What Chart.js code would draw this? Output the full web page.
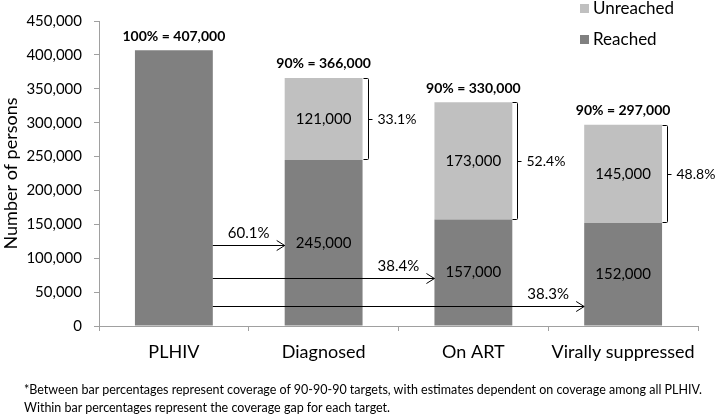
<!DOCTYPE html>
<html>
<head>
<meta charset="utf-8">
<script src="https://cdn.jsdelivr.net/npm/chart.js@4.4.1/dist/chart.umd.min.js"></script>
<style>
  body { margin: 0; background: #fff; }
  #wrap { position: relative; width: 716px; height: 420px; }
  #note { position: absolute; left: 24px; top: 381px; font: 12.5px Lato, sans-serif; line-height: 18px; color: #000; white-space: nowrap; }
</style>
</head>
<body>
<div id="wrap">
  <canvas id="cascade" width="716" height="420"></canvas>
  <div id="note">*Between bar percentages represent coverage of 90-90-90 targets, with estimates dependent on coverage among all PLHIV.<br>Within bar percentages represent the coverage gap for each target.</div>
</div>
<script>
// cascade data (persons)
const categories = ['PLHIV', 'Diagnosed', 'On ART', 'Virally suppressed'];
const reached    = [407000, 245000, 157000, 152000];
const unreached  = [0, 121000, 173000, 145000];
const topLabels  = ['100% = 407,000', '90% = 366,000', '90% = 330,000', '90% = 297,000'];
const gapLabels  = [null, '33.1%', '52.4%', '48.8%'];
const coverageLabels = ['60.1%', '38.4%', '38.3%'];
const yMax = 450000, yStep = 50000;

const DARK = '#808080';
const LIGHT = '#c0c0c0';
const AXIS = '#a0a0a0';
const FONT = 'Lato, sans-serif';
const fmt = (n) => n.toLocaleString('en-US');

// arrow heights for the between-bar coverage arrows (value units)
const arrowLevels = [119000, 71000, 29000];

const annotate = {
  id: 'annotate',
  afterDatasetsDraw(chart) {
    const { ctx, scales: { y } } = chart;
    const metaR = chart.getDatasetMeta(0);
    const metaU = chart.getDatasetMeta(1);
    ctx.save();
    ctx.fillStyle = '#000';
    ctx.strokeStyle = '#000';
    ctx.textBaseline = 'middle';

    // values inside the segments
    ctx.font = '15px ' + FONT;
    ctx.textAlign = 'center';
    for (let i = 1; i < categories.length; i++) {
      const r = metaR.data[i], u = metaU.data[i];
      ctx.fillText(fmt(reached[i]), r.x, (r.y + r.base) / 2);
      ctx.fillText(fmt(unreached[i]), u.x, (u.y + u.base) / 2);
    }

    // bold totals above bars
    ctx.font = 'bold 14px ' + FONT;
    categories.forEach((c, i) => {
      const top = y.getPixelForValue(reached[i] + unreached[i]);
      ctx.fillText(topLabels[i], metaR.data[i].x, top - 14);
    });

    // brackets for the coverage gap
    ctx.lineWidth = 1;
    ctx.font = '14px ' + FONT;
    ctx.textAlign = 'left';
    for (let i = 1; i < categories.length; i++) {
      const u = metaU.data[i];
      const right = Math.round(u.x + u.width / 2) + 0.5;
      const top = Math.round(u.y) + 0.5, bot = Math.round(u.base) - 0.5;
      const mid = (top + bot) / 2;
      const bx = right + 5;
      ctx.beginPath();
      ctx.moveTo(right, top);
      ctx.lineTo(bx - 1, top);
      ctx.quadraticCurveTo(bx, top, bx, top + 1);
      ctx.lineTo(bx, bot - 1);
      ctx.quadraticCurveTo(bx, bot, bx - 1, bot);
      ctx.lineTo(right, bot);
      ctx.moveTo(bx, Math.round(mid) + 0.5);
      ctx.lineTo(bx + 4, Math.round(mid) + 0.5);
      ctx.stroke();
      ctx.fillText(gapLabels[i], bx + 9, mid);
    }

    // arrows from PLHIV bar to each later bar
    const first = metaR.data[0];
    const startX = first.x + first.width / 2;
    ctx.font = '15px ' + FONT;
    ctx.textAlign = 'center';
    for (let k = 1; k < categories.length; k++) {
      const target = metaR.data[k];
      const endX = target.x - target.width / 2;
      const ay = Math.round(y.getPixelForValue(arrowLevels[k - 1])) + 0.5;
      ctx.beginPath();
      ctx.moveTo(startX, ay);
      ctx.lineTo(endX, ay);
      ctx.moveTo(endX - 8, ay - 5);
      ctx.lineTo(endX, ay);
      ctx.lineTo(endX - 8, ay + 5);
      ctx.stroke();
      ctx.fillText(coverageLabels[k - 1], endX - 36, ay - 12);
    }

    // legend
    ctx.font = '17px ' + FONT;
    ctx.textAlign = 'left';
    [['Unreached', LIGHT, 9], ['Reached', DARK, 40]].forEach(([label, col, ly]) => {
      ctx.fillStyle = col;
      ctx.fillRect(580, ly - 5, 9, 9);
      ctx.fillStyle = '#000';
      ctx.fillText(label, 593, ly);
    });
    ctx.restore();
  }
};

new Chart(document.getElementById('cascade'), {
  type: 'bar',
  data: {
    labels: categories,
    datasets: [
      { label: 'Reached', data: reached, backgroundColor: DARK, borderWidth: 0 },
      { label: 'Unreached', data: unreached, backgroundColor: LIGHT, borderWidth: 0 },
    ],
  },
  options: {
    responsive: false,
    animation: false,
    events: [],
    layout: { padding: { top: 15, right: 18, left: 0, bottom: 0 } },
    datasets: { bar: { barPercentage: 0.52, categoryPercentage: 1 } },
    plugins: { legend: { display: false }, tooltip: { enabled: false } },
    scales: {
      x: {
        stacked: true,
        grid: { drawOnChartArea: false, drawTicks: true, tickLength: 5, color: AXIS, offset: true },
        border: { color: AXIS },
        ticks: { color: '#000', font: { family: FONT, size: 18 }, padding: 10, maxRotation: 0 },
        afterFit: (s) => { s.height = 94; },
      },
      y: {
        stacked: true,
        min: 0,
        max: yMax,
        grid: { drawOnChartArea: false, drawTicks: true, tickLength: 5, color: AXIS },
        border: { color: AXIS },
        ticks: { stepSize: yStep, color: '#000', font: { family: FONT, size: 15 }, padding: 12, callback: (v) => fmt(v) },
        title: { display: true, text: 'Number of persons', color: '#000', font: { family: FONT, size: 18 }, padding: { top: 0, bottom: 0 } },
        afterFit: (s) => { s.width = 99; },
      },
    },
  },
  plugins: [annotate],
});
</script>
</body>
</html>
